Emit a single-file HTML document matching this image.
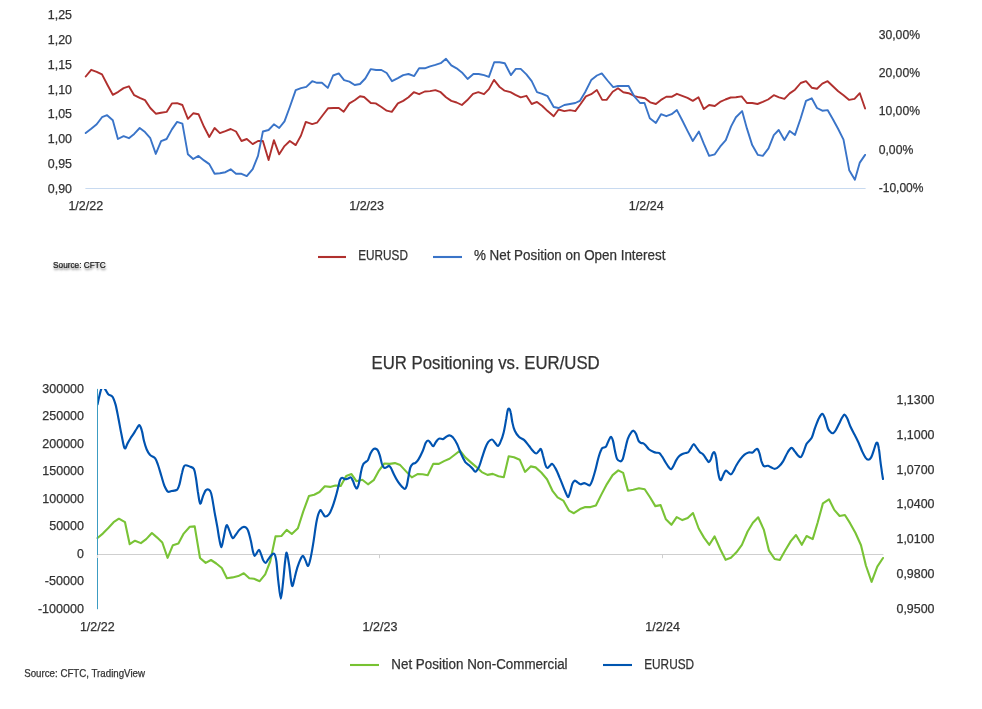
<!DOCTYPE html>
<html><head><meta charset="utf-8"><title>EUR Positioning vs. EUR/USD</title>
<style>
html,body{margin:0;padding:0;background:#fff}
svg{display:block;font-family:"Liberation Sans", sans-serif}
</style></head>
<body>
<svg width="982" height="709" viewBox="0 0 982 709">
<rect width="982" height="709" fill="#ffffff"/>
<text x="72.0" y="19.0" font-size="12.40" text-anchor="end" textLength="24.2" lengthAdjust="spacingAndGlyphs" fill="#333333" stroke="#333333" stroke-width="0.25">1,25</text>
<text x="72.0" y="43.9" font-size="12.40" text-anchor="end" textLength="24.2" lengthAdjust="spacingAndGlyphs" fill="#333333" stroke="#333333" stroke-width="0.25">1,20</text>
<text x="72.0" y="68.7" font-size="12.40" text-anchor="end" textLength="24.2" lengthAdjust="spacingAndGlyphs" fill="#333333" stroke="#333333" stroke-width="0.25">1,15</text>
<text x="72.0" y="93.5" font-size="12.40" text-anchor="end" textLength="24.2" lengthAdjust="spacingAndGlyphs" fill="#333333" stroke="#333333" stroke-width="0.25">1,10</text>
<text x="72.0" y="118.4" font-size="12.40" text-anchor="end" textLength="24.2" lengthAdjust="spacingAndGlyphs" fill="#333333" stroke="#333333" stroke-width="0.25">1,05</text>
<text x="72.0" y="143.2" font-size="12.40" text-anchor="end" textLength="24.2" lengthAdjust="spacingAndGlyphs" fill="#333333" stroke="#333333" stroke-width="0.25">1,00</text>
<text x="72.0" y="168.0" font-size="12.40" text-anchor="end" textLength="24.2" lengthAdjust="spacingAndGlyphs" fill="#333333" stroke="#333333" stroke-width="0.25">0,95</text>
<text x="72.0" y="192.8" font-size="12.40" text-anchor="end" textLength="24.2" lengthAdjust="spacingAndGlyphs" fill="#333333" stroke="#333333" stroke-width="0.25">0,90</text>
<text x="878.7" y="39.4" font-size="12.40" textLength="41.3" lengthAdjust="spacingAndGlyphs" fill="#333333" stroke="#333333" stroke-width="0.25">30,00%</text>
<text x="878.7" y="77.2" font-size="12.40" textLength="41.3" lengthAdjust="spacingAndGlyphs" fill="#333333" stroke="#333333" stroke-width="0.25">20,00%</text>
<text x="878.7" y="115.1" font-size="12.40" textLength="41.3" lengthAdjust="spacingAndGlyphs" fill="#333333" stroke="#333333" stroke-width="0.25">10,00%</text>
<text x="878.7" y="154.2" font-size="12.40" textLength="34.6" lengthAdjust="spacingAndGlyphs" fill="#333333" stroke="#333333" stroke-width="0.25">0,00%</text>
<text x="878.7" y="192.1" font-size="12.40" textLength="44.8" lengthAdjust="spacingAndGlyphs" fill="#333333" stroke="#333333" stroke-width="0.25">-10,00%</text>
<text x="85.8" y="209.8" font-size="12.40" text-anchor="middle" textLength="34.8" lengthAdjust="spacingAndGlyphs" fill="#333333" stroke="#333333" stroke-width="0.25">1/2/22</text>
<text x="366.6" y="209.8" font-size="12.40" text-anchor="middle" textLength="34.8" lengthAdjust="spacingAndGlyphs" fill="#333333" stroke="#333333" stroke-width="0.25">1/2/23</text>
<text x="646.2" y="209.8" font-size="12.40" text-anchor="middle" textLength="34.8" lengthAdjust="spacingAndGlyphs" fill="#333333" stroke="#333333" stroke-width="0.25">1/2/24</text>
<line x1="85.4" y1="188.5" x2="865.6" y2="188.5" stroke="#c8daf0" stroke-width="1"/>
<polyline points="85.7,76.5 91.2,69.8 96.7,71.8 102.0,74.4 107.5,85.0 112.8,94.8 118.3,91.8 123.6,88.1 128.9,86.3 134.2,95.2 139.7,97.9 145.0,100.1 150.3,108.0 155.8,113.7 161.1,112.7 166.6,111.9 171.9,103.4 177.1,103.2 182.4,105.0 187.9,118.8 193.2,113.3 198.5,114.2 204.0,126.8 209.3,137.0 214.6,128.0 219.9,133.1 225.4,131.1 230.7,129.0 236.0,131.5 241.5,141.0 246.8,139.0 252.7,144.1 258.0,141.0 262.9,141.0 268.6,160.0 273.9,140.2 279.2,154.3 284.5,146.1 289.8,141.0 295.7,145.1 301.0,135.5 305.8,121.9 312.2,124.1 317.0,122.7 322.7,115.2 328.2,108.2 333.5,108.0 338.8,108.0 343.7,111.7 349.4,103.4 354.7,100.3 360.0,96.2 364.1,97.0 370.8,103.0 375.7,103.4 381.4,107.0 386.7,110.7 391.8,111.9 397.9,103.4 403.2,100.9 408.5,97.3 413.8,92.2 419.1,94.2 424.8,91.5 430.1,91.1 435.4,90.1 440.7,92.2 446.0,97.3 451.3,100.9 456.6,102.5 461.9,105.0 467.1,100.3 473.0,93.8 478.3,92.2 484.0,94.2 488.9,89.1 494.0,79.9 499.3,86.7 504.6,90.7 510.5,92.2 515.4,94.8 520.7,97.3 526.4,95.8 531.7,104.0 537.0,101.9 542.3,106.0 547.6,111.1 553.7,116.2 558.6,109.5 564.3,111.1 570.0,110.1 575.3,111.1 580.6,104.0 585.9,96.4 591.2,94.2 596.9,90.1 602.2,99.9 606.6,99.9 612.7,91.8 618.0,88.3 623.3,92.2 628.6,93.2 634.7,96.2 639.2,97.3 644.9,98.3 650.2,102.3 655.9,104.0 661.0,99.9 666.3,96.8 671.6,96.8 676.9,93.8 682.2,95.8 687.5,97.9 692.8,100.9 698.5,97.3 703.8,109.1 709.1,105.0 714.8,106.0 720.1,101.9 725.4,99.5 730.7,97.5 735.9,97.3 741.6,96.4 746.9,103.0 752.2,103.0 757.5,104.0 762.8,101.9 768.1,99.5 773.8,95.2 779.1,97.3 784.4,98.9 789.7,93.4 795.0,89.7 800.7,83.0 806.0,81.2 811.7,87.7 817.0,88.7 822.3,83.6 827.6,81.2 832.9,86.3 838.2,91.3 843.5,95.2 849.2,99.9 854.5,98.9 859.8,93.2 865.1,108.5" fill="none" stroke="#b0302e" stroke-width="1.9" stroke-linejoin="round" stroke-linecap="round"/>
<polyline points="85.7,133.1 91.2,128.8 96.7,124.3 102.0,117.2 107.1,115.2 112.8,120.3 117.9,139.0 123.6,136.2 128.9,138.2 134.2,133.9 139.7,128.0 145.0,132.1 150.3,138.2 155.8,153.9 161.1,141.2 166.6,139.0 171.9,129.4 177.1,121.9 182.4,123.7 187.9,154.3 193.2,159.0 198.5,155.9 204.0,160.4 209.3,164.1 214.6,173.8 219.9,173.2 225.4,172.2 230.7,169.3 236.0,173.8 241.5,173.8 246.8,176.1 252.7,169.1 258.0,155.9 262.9,131.5 268.6,130.0 273.9,124.3 279.2,128.0 284.5,121.3 289.8,107.0 295.7,90.1 301.0,88.1 306.3,86.9 312.2,81.2 317.0,82.8 321.9,82.8 327.8,87.9 333.1,75.5 338.8,73.4 344.1,80.1 349.4,81.6 354.7,85.0 360.0,84.0 365.3,78.5 370.8,69.1 376.1,70.0 381.4,70.0 386.7,73.0 392.0,81.2 397.9,78.1 403.2,75.1 408.5,74.0 414.2,76.1 419.1,68.3 424.8,68.3 430.1,66.3 435.4,64.9 440.7,63.2 446.0,58.8 451.3,65.3 456.6,68.3 461.9,72.4 467.6,78.9 473.4,74.0 478.7,74.0 484.0,75.1 488.9,76.9 494.2,62.2 499.5,62.2 504.8,63.2 510.9,75.1 515.8,68.9 520.7,68.9 526.4,74.4 531.7,81.2 537.0,92.2 542.3,93.8 547.6,96.2 553.7,107.0 558.6,108.0 564.3,105.0 570.0,104.0 575.3,103.0 579.8,100.9 585.1,92.2 591.2,80.1 596.9,75.5 601.8,73.4 607.5,80.5 613.2,87.1 618.0,86.0 623.3,86.0 628.6,86.0 633.9,95.8 640.0,103.0 644.5,103.0 649.8,118.2 655.9,122.9 661.0,114.2 666.3,116.2 671.6,114.2 676.9,110.1 682.2,120.3 687.5,130.9 692.8,141.0 698.9,131.5 703.8,143.7 709.1,155.9 714.8,154.3 720.1,146.7 725.8,140.2 731.1,126.4 735.9,117.2 742.1,111.1 746.9,128.4 752.2,145.1 757.9,154.9 762.8,155.9 768.5,148.4 773.8,135.1 778.7,130.0 784.4,140.0 789.7,131.1 795.0,134.9 800.7,118.2 806.0,100.9 811.7,98.3 817.0,108.0 822.3,110.7 827.6,110.1 832.9,119.2 838.2,129.0 843.5,139.6 849.2,170.2 854.9,179.7 859.8,162.6 865.1,154.9" fill="none" stroke="#3a74c8" stroke-width="1.9" stroke-linejoin="round" stroke-linecap="round"/>
<line x1="318" y1="257" x2="346" y2="257" stroke="#b0302e" stroke-width="2.1"/>
<text x="358.2" y="260.1" font-size="13.80" textLength="49.7" lengthAdjust="spacingAndGlyphs" fill="#333333" stroke="#333333" stroke-width="0.25">EURUSD</text>
<line x1="433" y1="257" x2="462" y2="257" stroke="#3a74c8" stroke-width="2.1"/>
<text x="473.9" y="260.1" font-size="13.80" textLength="191.5" lengthAdjust="spacingAndGlyphs" fill="#333333" stroke="#333333" stroke-width="0.25">% Net Position on Open Interest</text>
<text x="53.1" y="267.8" font-size="9.90" textLength="52.6" lengthAdjust="spacingAndGlyphs" fill="#1c1c1c" stroke="#1c1c1c" stroke-width="0.22" style="text-shadow:0.5px 2.5px 2.5px rgba(0,0,0,.42)">Source: CFTC</text>
<text x="371.5" y="369.0" font-size="18.30" textLength="228.2" lengthAdjust="spacingAndGlyphs" fill="#333333" stroke="#333333" stroke-width="0.25">EUR Positioning vs. EUR/USD</text>
<text x="84.0" y="392.7" font-size="12.40" text-anchor="end" textLength="41.7" lengthAdjust="spacingAndGlyphs" fill="#333333" stroke="#333333" stroke-width="0.25">300000</text>
<text x="84.0" y="420.3" font-size="12.40" text-anchor="end" textLength="41.7" lengthAdjust="spacingAndGlyphs" fill="#333333" stroke="#333333" stroke-width="0.25">250000</text>
<text x="84.0" y="447.8" font-size="12.40" text-anchor="end" textLength="41.7" lengthAdjust="spacingAndGlyphs" fill="#333333" stroke="#333333" stroke-width="0.25">200000</text>
<text x="84.0" y="475.3" font-size="12.40" text-anchor="end" textLength="41.7" lengthAdjust="spacingAndGlyphs" fill="#333333" stroke="#333333" stroke-width="0.25">150000</text>
<text x="84.0" y="502.9" font-size="12.40" text-anchor="end" textLength="41.7" lengthAdjust="spacingAndGlyphs" fill="#333333" stroke="#333333" stroke-width="0.25">100000</text>
<text x="84.0" y="530.4" font-size="12.40" text-anchor="end" textLength="34.8" lengthAdjust="spacingAndGlyphs" fill="#333333" stroke="#333333" stroke-width="0.25">50000</text>
<text x="84.0" y="557.9" font-size="12.40" text-anchor="end" textLength="6.9" lengthAdjust="spacingAndGlyphs" fill="#333333" stroke="#333333" stroke-width="0.25">0</text>
<text x="84.0" y="585.4" font-size="12.40" text-anchor="end" textLength="39.2" lengthAdjust="spacingAndGlyphs" fill="#333333" stroke="#333333" stroke-width="0.25">-50000</text>
<text x="84.0" y="613.0" font-size="12.40" text-anchor="end" textLength="46.1" lengthAdjust="spacingAndGlyphs" fill="#333333" stroke="#333333" stroke-width="0.25">-100000</text>
<text x="896.5" y="404.1" font-size="12.40" textLength="38.0" lengthAdjust="spacingAndGlyphs" fill="#333333" stroke="#333333" stroke-width="0.25">1,1300</text>
<text x="896.5" y="438.9" font-size="12.40" textLength="38.0" lengthAdjust="spacingAndGlyphs" fill="#333333" stroke="#333333" stroke-width="0.25">1,1000</text>
<text x="896.5" y="473.6" font-size="12.40" textLength="38.0" lengthAdjust="spacingAndGlyphs" fill="#333333" stroke="#333333" stroke-width="0.25">1,0700</text>
<text x="896.5" y="508.4" font-size="12.40" textLength="38.0" lengthAdjust="spacingAndGlyphs" fill="#333333" stroke="#333333" stroke-width="0.25">1,0400</text>
<text x="896.5" y="543.1" font-size="12.40" textLength="38.0" lengthAdjust="spacingAndGlyphs" fill="#333333" stroke="#333333" stroke-width="0.25">1,0100</text>
<text x="896.5" y="577.9" font-size="12.40" textLength="38.0" lengthAdjust="spacingAndGlyphs" fill="#333333" stroke="#333333" stroke-width="0.25">0,9800</text>
<text x="896.5" y="612.6" font-size="12.40" textLength="38.0" lengthAdjust="spacingAndGlyphs" fill="#333333" stroke="#333333" stroke-width="0.25">0,9500</text>
<text x="97.3" y="630.9" font-size="12.40" text-anchor="middle" textLength="34.8" lengthAdjust="spacingAndGlyphs" fill="#333333" stroke="#333333" stroke-width="0.25">1/2/22</text>
<text x="380.0" y="630.9" font-size="12.40" text-anchor="middle" textLength="34.8" lengthAdjust="spacingAndGlyphs" fill="#333333" stroke="#333333" stroke-width="0.25">1/2/23</text>
<text x="662.6" y="630.9" font-size="12.40" text-anchor="middle" textLength="34.8" lengthAdjust="spacingAndGlyphs" fill="#333333" stroke="#333333" stroke-width="0.25">1/2/24</text>
<line x1="97.5" y1="554.5" x2="883.4" y2="554.5" stroke="#cfcfcf" stroke-width="1"/>
<line x1="379.5" y1="554.5" x2="379.5" y2="558.2" stroke="#cfcfcf" stroke-width="1"/>
<line x1="662.5" y1="554.5" x2="662.5" y2="558.2" stroke="#cfcfcf" stroke-width="1"/>
<clipPath id="c2"><rect x="97.5" y="388.9" width="800" height="230"/></clipPath>
<polyline points="97.5,538.0 102.8,533.6 108.3,527.9 113.6,522.2 118.9,518.7 125.0,522.2 129.7,544.2 135.0,540.7 140.9,543.1 146.2,539.1 151.9,533.0 157.2,537.6 162.3,542.5 167.6,557.8 172.9,545.2 178.4,543.5 183.7,533.6 189.8,526.8 194.7,526.4 200.0,558.0 205.7,562.9 211.0,560.0 216.3,563.5 221.8,568.0 226.9,578.2 232.6,577.4 238.3,576.1 243.8,573.3 249.3,578.2 254.0,578.8 259.7,581.2 265.2,574.3 270.2,561.5 275.5,536.4 281.4,536.0 286.7,529.9 291.8,534.0 297.9,528.3 303.2,511.6 308.9,496.1 314.2,494.7 319.5,492.0 324.8,486.3 330.1,486.9 335.4,485.5 340.7,485.9 346.2,476.1 351.5,474.1 356.4,481.2 362.3,479.8 368.0,484.3 373.7,480.2 379.0,470.6 384.3,463.5 389.6,463.9 394.9,463.1 400.2,465.1 406.3,471.6 411.8,477.4 417.5,474.1 422.6,474.3 427.7,475.3 433.2,463.9 438.9,463.9 444.0,461.1 449.5,458.8 454.7,454.7 460.0,450.7 465.3,457.4 470.6,462.1 475.9,466.6 481.8,472.1 487.5,474.9 492.8,473.9 498.5,476.2 503.8,477.2 508.7,456.2 514.0,457.2 519.7,459.7 525.0,471.9 530.7,466.4 535.6,467.4 541.3,472.5 547.0,479.2 552.7,491.2 557.6,497.3 563.3,500.6 569.0,510.6 573.9,513.2 580.0,509.1 585.3,507.1 590.6,507.1 595.9,505.5 601.2,494.9 606.9,484.1 612.6,475.1 618.3,470.4 623.2,472.9 628.0,490.8 633.3,489.8 639.0,488.2 644.7,489.2 650.0,497.3 655.3,506.1 660.6,505.1 665.9,519.3 671.4,524.8 676.7,517.1 682.4,520.1 687.7,518.1 693.0,513.0 698.7,528.5 704.0,537.6 709.3,544.8 714.6,536.4 720.3,549.2 725.6,559.8 730.9,557.8 736.4,552.3 741.9,544.8 747.6,531.5 752.9,522.8 758.2,517.3 763.9,529.9 769.0,550.7 774.7,559.0 779.8,560.0 785.3,550.3 790.8,541.1 796.0,535.0 801.8,544.8 806.6,536.0 812.7,539.1 817.6,522.8 822.9,503.4 829.0,499.3 834.3,509.9 839.6,516.0 844.9,515.0 850.2,523.4 855.5,533.0 861.0,545.2 865.9,565.5 871.6,581.8 877.3,566.6 883.0,558.0" fill="none" stroke="#79c336" stroke-width="2.1" stroke-linejoin="round" stroke-linecap="round"/>
<path d="M97.5 404.4 C97.8 403.2 98.6 399.2 99.2 396.7 C99.8 394.2 100.6 390.8 101.2 389.2 C101.8 387.5 102.4 387.0 103.0 386.9 C103.6 386.9 104.0 387.5 104.9 388.8 C105.8 390.0 107.1 392.9 108.3 394.3 C109.6 395.6 111.2 395.0 112.4 396.7 C113.6 398.4 114.4 400.8 115.5 404.4 C116.5 408.1 117.5 413.6 118.5 418.7 C119.5 423.8 120.5 430.1 121.6 435.0 C122.6 439.9 123.6 446.9 124.6 448.2 C125.6 449.6 126.7 444.8 127.7 443.1 C128.7 441.4 129.7 439.7 130.7 438.0 C131.8 436.4 132.8 435.0 133.8 433.4 C134.8 431.8 135.9 429.8 136.8 428.5 C137.8 427.1 138.6 424.8 139.5 425.2 C140.3 425.6 141.2 428.3 141.9 430.9 C142.7 433.6 143.2 438.0 144.0 441.1 C144.8 444.2 145.6 446.9 146.6 449.2 C147.6 451.6 148.7 453.4 150.1 454.9 C151.5 456.5 153.8 456.6 155.2 458.4 C156.5 460.2 157.2 462.7 158.2 465.5 C159.2 468.4 160.3 472.4 161.3 475.7 C162.3 479.0 163.3 482.9 164.3 485.5 C165.4 488.1 166.6 490.7 167.8 491.6 C169.0 492.5 169.9 491.3 171.5 491.0 C173.0 490.7 175.8 490.8 177.2 489.6 C178.5 488.4 178.8 486.7 179.6 483.9 C180.4 481.1 181.2 475.7 182.1 472.7 C182.9 469.6 183.4 466.6 184.7 465.5 C186.0 464.5 188.3 466.0 189.8 466.6 C191.3 467.1 192.9 467.1 193.9 469.0 C194.9 470.9 195.2 473.9 195.9 477.8 C196.6 481.6 197.2 487.7 197.9 492.0 C198.7 496.3 199.3 502.9 200.2 503.6 C201.0 504.3 202.1 498.4 203.0 496.1 C204.0 493.8 204.9 490.8 206.1 490.0 C207.3 489.1 209.1 489.6 210.2 491.0 C211.2 492.4 211.5 494.6 212.2 498.1 C212.9 501.7 213.8 507.6 214.6 512.4 C215.5 517.2 216.5 522.4 217.3 526.8 C218.1 531.3 218.6 535.7 219.3 539.1 C220.0 542.5 220.7 547.2 221.4 547.2 C222.0 547.2 222.7 542.1 223.4 539.1 C224.1 536.0 224.8 531.2 225.4 528.9 C226.0 526.6 226.4 524.9 227.1 525.2 C227.7 525.6 228.6 528.8 229.5 530.9 C230.4 533.1 231.5 537.4 232.6 538.0 C233.6 538.7 234.4 536.4 235.6 535.0 C236.8 533.6 238.3 530.8 239.7 529.5 C241.1 528.1 242.4 526.8 243.8 526.8 C245.1 526.9 246.7 527.5 247.8 529.9 C249.0 532.3 250.0 537.5 250.9 541.1 C251.7 544.7 252.3 548.8 252.9 551.3 C253.5 553.7 254.0 555.4 254.6 555.8 C255.2 556.1 255.9 554.3 256.6 553.3 C257.3 552.3 258.3 549.7 259.0 549.9 C259.8 550.0 260.4 552.6 261.1 554.3 C261.8 556.0 262.4 558.6 263.1 560.0 C263.9 561.5 264.7 563.0 265.6 562.9 C266.4 562.8 267.3 560.7 268.2 559.4 C269.2 558.2 270.2 556.3 271.3 555.4 C272.3 554.4 273.5 552.9 274.3 553.9 C275.2 554.9 275.7 556.8 276.4 561.5 C277.0 566.1 277.6 575.6 278.4 581.8 C279.1 588.0 280.1 598.7 280.8 598.7 C281.6 598.7 282.4 588.0 283.1 581.8 C283.8 575.6 284.5 566.3 285.1 561.5 C285.7 556.6 286.1 552.0 286.7 552.7 C287.4 553.4 288.4 560.7 289.2 565.5 C289.9 570.4 290.6 578.4 291.2 581.8 C291.8 585.2 292.1 586.6 292.6 585.9 C293.2 585.2 293.9 580.8 294.7 577.8 C295.4 574.7 296.4 570.6 297.3 567.6 C298.3 564.5 299.4 561.4 300.4 559.4 C301.3 557.5 302.2 555.6 303.0 555.8 C303.9 555.9 304.6 558.8 305.5 560.4 C306.3 562.1 307.3 566.3 308.1 565.9 C309.0 565.6 309.6 562.6 310.5 558.4 C311.5 554.3 312.6 547.4 313.6 541.1 C314.6 534.8 315.6 525.9 316.7 520.7 C317.7 515.6 319.1 511.6 320.1 510.3 C321.1 509.1 321.9 512.4 322.8 513.4 C323.6 514.4 324.2 516.3 325.2 516.5 C326.2 516.6 327.8 515.8 328.9 514.4 C330.0 513.1 330.9 510.9 331.9 508.3 C333.0 505.8 334.0 502.5 335.0 499.1 C336.0 495.8 337.2 491.2 338.0 487.9 C338.9 484.7 339.4 481.5 340.1 479.8 C340.8 478.1 341.3 477.9 342.1 477.8 C343.0 477.7 344.2 479.1 345.2 479.2 C346.2 479.3 347.3 478.7 348.2 478.4 C349.2 478.1 350.1 476.9 350.9 477.4 C351.7 477.8 352.2 479.4 352.9 480.8 C353.6 482.2 354.3 484.7 354.9 485.9 C355.6 487.2 356.3 488.9 357.0 488.4 C357.7 487.8 358.3 485.6 359.0 482.9 C359.7 480.1 360.4 474.7 361.1 471.6 C361.7 468.6 362.3 466.1 363.1 464.5 C363.8 462.9 364.7 462.8 365.5 462.1 C366.4 461.3 367.1 461.5 368.0 460.0 C368.8 458.6 369.7 455.1 370.6 453.3 C371.5 451.5 372.5 450.0 373.3 449.2 C374.1 448.5 374.6 448.5 375.3 448.6 C376.1 448.8 377.0 449.1 377.8 450.3 C378.5 451.4 379.1 453.2 379.8 455.4 C380.5 457.6 381.2 461.5 381.8 463.5 C382.5 465.5 383.2 466.9 383.9 467.6 C384.5 468.3 385.1 467.8 385.9 467.6 C386.8 467.3 388.1 465.9 389.0 465.9 C389.8 466.0 390.1 466.5 391.0 468.0 C391.8 469.4 392.9 472.4 394.1 474.7 C395.2 477.0 396.8 479.8 398.1 481.8 C399.5 483.9 401.1 485.7 402.2 486.9 C403.3 488.1 404.1 489.1 404.8 489.0 C405.6 488.8 406.1 487.8 406.7 485.9 C407.3 484.0 407.7 480.8 408.3 477.8 C408.9 474.7 409.6 469.9 410.3 467.6 C411.1 465.3 411.9 464.7 412.8 463.9 C413.6 463.1 414.5 463.6 415.4 462.9 C416.4 462.1 417.3 461.4 418.5 459.4 C419.7 457.5 421.4 454.0 422.6 451.3 C423.8 448.6 424.7 444.9 425.6 443.1 C426.5 441.3 427.2 440.5 428.1 440.5 C428.9 440.5 429.9 442.2 430.7 443.1 C431.6 444.1 432.3 446.4 433.2 446.2 C434.0 446.0 434.9 443.4 435.8 442.1 C436.8 440.9 437.7 439.2 438.9 438.7 C440.0 438.1 441.7 439.3 442.9 439.1 C444.1 438.8 444.9 437.6 446.0 437.0 C447.1 436.4 448.3 435.3 449.5 435.4 C450.6 435.5 451.8 436.2 453.1 437.6 C454.4 439.1 455.8 441.4 457.2 444.2 C458.5 446.9 459.9 451.4 461.3 454.3 C462.6 457.3 464.0 460.2 465.3 462.1 C466.7 463.9 468.2 464.5 469.4 465.5 C470.6 466.6 471.4 467.6 472.5 468.6 C473.5 469.6 474.4 472.0 475.5 471.6 C476.6 471.3 478.0 468.8 479.2 466.4 C480.3 464.0 481.2 460.3 482.2 457.2 C483.2 454.2 484.3 450.6 485.3 448.0 C486.3 445.5 487.2 443.4 488.3 441.9 C489.5 440.5 490.9 439.4 492.0 439.5 C493.1 439.6 493.9 441.5 494.8 442.5 C495.8 443.6 497.0 446.1 497.9 446.0 C498.9 445.9 499.6 444.1 500.5 441.9 C501.5 439.7 502.7 436.7 503.6 432.8 C504.6 428.9 505.6 422.2 506.3 418.5 C506.9 414.8 507.2 412.0 507.7 410.4 C508.2 408.7 508.6 408.4 509.1 408.7 C509.6 409.1 510.2 410.1 510.7 412.4 C511.3 414.7 511.7 419.5 512.4 422.6 C513.0 425.6 513.7 428.4 514.8 430.7 C515.9 433.1 517.4 435.3 518.9 436.8 C520.4 438.4 522.3 438.4 524.0 439.9 C525.7 441.4 527.5 444.1 529.1 446.0 C530.6 447.9 531.9 449.8 533.1 451.1 C534.3 452.4 535.2 453.5 536.2 453.5 C537.1 453.5 538.1 451.8 538.8 451.1 C539.6 450.4 540.2 448.4 540.9 449.1 C541.6 449.7 542.2 452.5 542.9 455.2 C543.7 457.8 544.6 462.8 545.4 464.9 C546.1 467.1 546.6 467.9 547.4 468.0 C548.1 468.1 549.0 466.4 549.8 465.8 C550.7 465.1 551.3 463.5 552.3 463.9 C553.2 464.4 554.3 466.1 555.5 468.4 C556.8 470.7 558.3 474.4 559.6 477.6 C561.0 480.8 562.5 484.9 563.7 487.8 C564.9 490.6 566.0 493.4 566.7 494.9 C567.5 496.4 567.8 497.4 568.4 496.9 C568.9 496.4 569.5 494.0 570.2 491.8 C570.9 489.6 571.7 485.6 572.4 483.7 C573.2 481.8 574.0 480.8 574.9 480.6 C575.8 480.5 577.0 482.1 577.9 482.7 C578.9 483.3 579.6 484.2 580.6 484.3 C581.6 484.4 583.0 483.1 584.1 483.1 C585.1 483.1 586.2 483.9 587.1 484.3 C588.1 484.7 588.9 485.9 589.8 485.3 C590.6 484.7 591.3 483.1 592.2 480.6 C593.1 478.2 594.2 474.2 595.3 470.4 C596.3 466.7 597.3 461.7 598.3 458.2 C599.3 454.7 600.5 451.2 601.4 449.5 C602.2 447.7 602.6 448.1 603.4 447.6 C604.2 447.2 605.2 447.7 606.0 446.6 C606.9 445.5 607.7 442.5 608.5 440.9 C609.3 439.3 610.2 436.8 610.9 436.8 C611.7 436.8 612.3 438.5 613.0 440.9 C613.7 443.3 614.3 448.1 615.0 451.1 C615.7 454.1 616.2 457.1 617.0 458.8 C617.9 460.5 619.2 461.2 620.1 461.3 C621.1 461.4 621.9 461.3 622.7 459.2 C623.6 457.2 624.3 452.5 625.2 449.1 C626.0 445.7 626.9 441.6 627.8 438.9 C628.8 436.2 629.9 434.1 630.9 432.8 C631.8 431.4 632.7 430.6 633.5 430.7 C634.4 430.9 635.1 432.1 636.0 433.8 C636.8 435.5 637.8 439.4 638.6 440.9 C639.5 442.4 640.3 442.5 641.1 443.0 C641.9 443.4 642.7 442.9 643.5 443.4 C644.4 443.9 645.2 445.0 646.2 446.0 C647.1 447.0 648.0 448.5 649.2 449.5 C650.4 450.4 652.1 451.2 653.3 451.7 C654.5 452.3 655.3 452.5 656.4 452.7 C657.4 453.0 658.4 452.4 659.4 453.1 C660.4 453.9 661.4 455.7 662.5 457.2 C663.5 458.7 664.5 460.7 665.5 462.3 C666.5 463.9 667.6 465.8 668.6 467.0 C669.5 468.1 670.3 469.5 671.2 469.2 C672.1 468.9 673.0 466.7 673.8 465.2 C674.7 463.6 675.4 461.6 676.3 460.1 C677.2 458.6 678.3 457.0 679.3 456.0 C680.4 455.0 681.4 454.5 682.4 454.0 C683.4 453.5 684.5 453.2 685.5 453.0 C686.4 452.7 687.3 453.0 688.1 452.3 C689.0 451.7 689.6 450.2 690.5 448.9 C691.5 447.5 692.6 444.4 693.6 444.2 C694.6 444.0 695.6 446.6 696.7 447.9 C697.7 449.2 698.6 450.8 699.7 451.9 C700.8 453.0 702.1 453.2 703.2 454.4 C704.3 455.6 705.5 457.8 706.4 459.1 C707.4 460.4 708.1 462.1 708.9 462.1 C709.6 462.1 710.3 460.4 710.9 459.1 C711.5 457.7 712.0 455.1 712.5 454.0 C713.1 452.9 713.8 451.8 714.4 452.3 C715.0 452.9 715.5 454.2 716.0 457.0 C716.6 459.8 717.1 465.7 717.6 469.2 C718.2 472.8 718.9 476.6 719.5 478.4 C720.0 480.2 720.5 480.5 721.1 480.0 C721.7 479.5 722.4 476.9 723.1 475.4 C723.9 473.8 724.7 471.2 725.6 470.7 C726.4 470.2 727.3 471.7 728.2 472.3 C729.1 472.9 730.0 474.5 730.9 474.3 C731.7 474.2 732.4 472.8 733.3 471.3 C734.2 469.8 735.2 467.2 736.4 465.2 C737.6 463.1 739.1 460.8 740.4 459.1 C741.8 457.3 743.2 455.7 744.5 454.6 C745.9 453.5 747.2 452.9 748.6 452.5 C750.0 452.2 751.5 453.0 752.7 452.5 C753.8 452.1 754.5 450.5 755.3 449.9 C756.1 449.3 756.7 448.4 757.4 448.9 C758.0 449.4 758.7 450.9 759.4 453.0 C760.1 455.0 760.7 458.9 761.4 461.1 C762.2 463.3 762.8 465.4 763.9 466.2 C765.0 467.0 766.8 465.6 767.9 465.8 C769.1 466.0 769.8 466.7 771.0 467.2 C772.2 467.7 773.7 469.0 775.1 468.8 C776.4 468.7 777.8 467.5 779.1 466.2 C780.5 464.9 781.9 463.3 783.2 461.1 C784.6 458.9 785.9 455.2 787.3 453.0 C788.6 450.7 790.2 448.2 791.4 447.9 C792.6 447.5 793.2 449.6 794.4 450.9 C795.6 452.3 797.4 455.0 798.5 456.0 C799.6 457.0 800.3 457.7 801.1 457.0 C802.0 456.3 802.7 454.1 803.6 451.9 C804.5 449.7 805.3 446.2 806.6 443.8 C808.0 441.4 810.4 440.2 811.7 437.7 C813.1 435.1 813.6 431.7 814.8 428.5 C816.0 425.3 817.6 420.8 818.9 418.3 C820.1 415.9 821.3 413.8 822.3 413.8 C823.3 413.8 824.0 415.9 825.0 418.3 C825.9 420.8 827.1 426.2 828.0 428.5 C829.0 430.8 829.8 431.4 830.7 432.2 C831.5 433.0 832.3 433.5 833.1 433.2 C833.9 432.9 834.5 432.2 835.6 430.5 C836.6 428.9 838.1 425.6 839.2 423.4 C840.3 421.2 841.4 418.8 842.3 417.3 C843.2 415.9 843.9 414.4 844.7 414.7 C845.6 414.9 846.4 416.8 847.4 418.7 C848.3 420.7 849.2 423.8 850.4 426.5 C851.6 429.1 853.1 431.9 854.5 434.6 C855.9 437.3 857.2 439.9 858.6 442.8 C859.9 445.7 861.3 449.5 862.4 451.9 C863.6 454.4 864.6 456.3 865.5 457.6 C866.5 458.9 867.2 459.7 868.2 459.7 C869.1 459.7 870.1 459.1 871.0 457.6 C871.9 456.2 872.9 453.1 873.6 450.9 C874.4 448.7 875.1 445.8 875.7 444.4 C876.3 443.0 876.8 442.0 877.3 442.8 C877.9 443.5 878.4 445.8 878.9 448.9 C879.5 451.9 879.9 457.4 880.4 461.1 C880.8 464.8 881.4 468.3 881.8 471.3 C882.2 474.3 882.8 477.7 883.0 479.0" fill="none" stroke="#0053b0" stroke-width="2.15" stroke-linejoin="round" stroke-linecap="round" clip-path="url(#c2)"/>
<line x1="97.5" y1="388.9" x2="97.5" y2="609.2" stroke="#3c9cc2" stroke-width="1.05"/>
<line x1="97.5" y1="555" x2="97.5" y2="558" stroke="#dedede" stroke-width="1.3"/>
<line x1="350" y1="665" x2="379" y2="665" stroke="#77c232" stroke-width="2.1"/>
<text x="391.3" y="669.2" font-size="13.80" textLength="176.3" lengthAdjust="spacingAndGlyphs" fill="#333333" stroke="#333333" stroke-width="0.25">Net Position Non-Commercial</text>
<line x1="603" y1="665" x2="632" y2="665" stroke="#0055b0" stroke-width="2.1"/>
<text x="644.2" y="669.2" font-size="13.80" textLength="49.9" lengthAdjust="spacingAndGlyphs" fill="#333333" stroke="#333333" stroke-width="0.25">EURUSD</text>
<text x="24.2" y="676.9" font-size="10.60" textLength="120.8" lengthAdjust="spacingAndGlyphs" fill="#333333" stroke="#333333" stroke-width="0.25">Source: CFTC, TradingView</text>
</svg>
</body></html>
